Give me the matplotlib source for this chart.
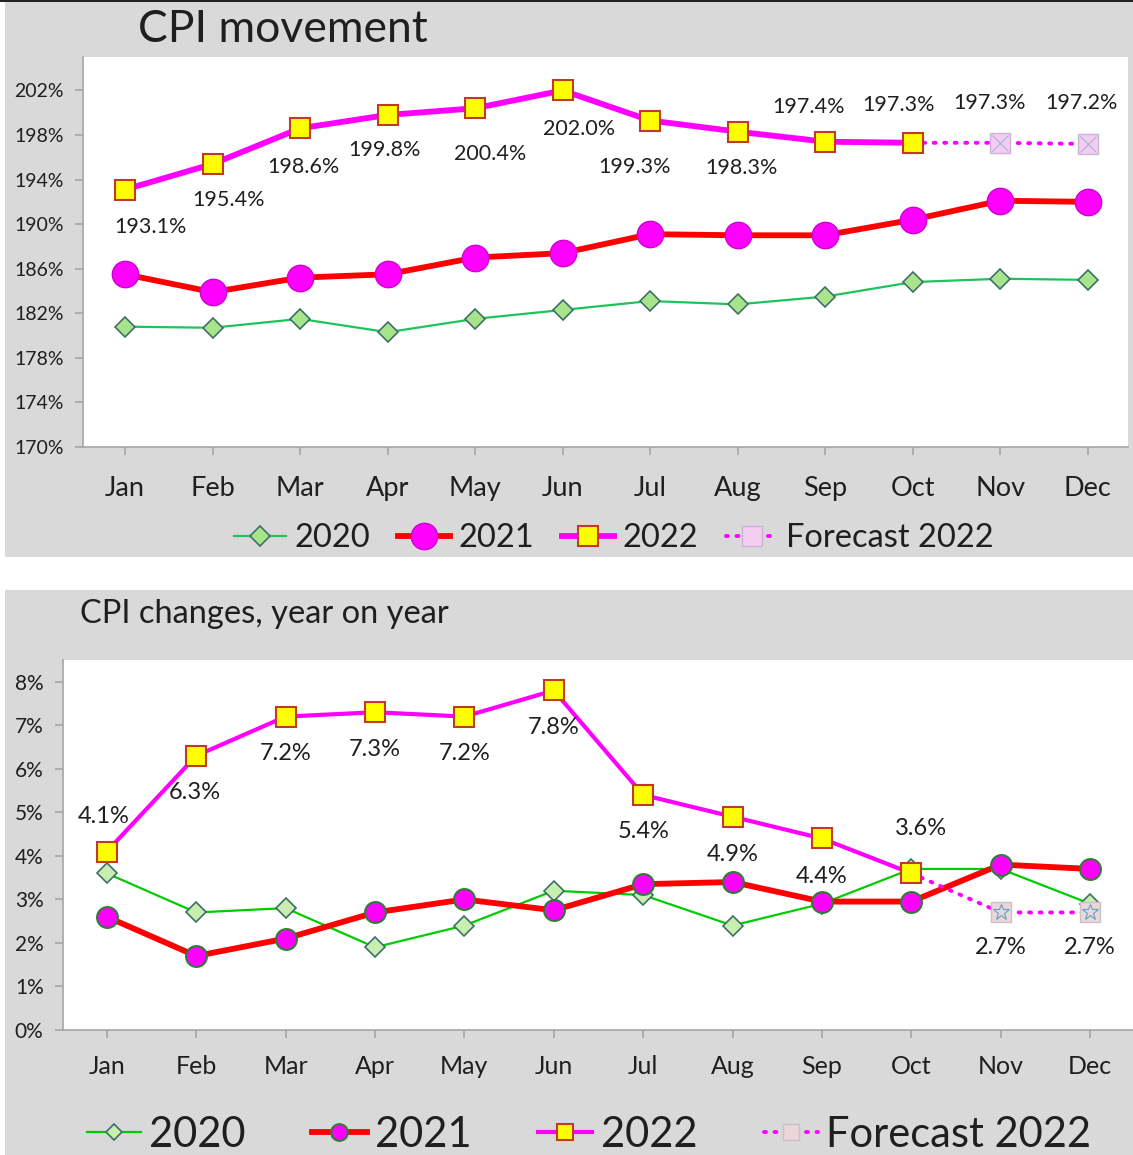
import matplotlib
matplotlib.use("Agg")
import matplotlib.pyplot as plt
from matplotlib.patches import Rectangle
from matplotlib.ticker import FuncFormatter

plt.rcParams['font.family'] = ['Lato', 'DejaVu Sans']

months = ['Jan', 'Feb', 'Mar', 'Apr', 'May', 'Jun',
          'Jul', 'Aug', 'Sep', 'Oct', 'Nov', 'Dec']

# CPI index (%), top chart
cpi_2020 = [180.8, 180.7, 181.5, 180.3, 181.5, 182.3, 183.1, 182.8, 183.5, 184.8, 185.1, 185.0]
cpi_2021 = [185.5, 183.9, 185.2, 185.5, 187.0, 187.4, 189.1, 189.0, 189.0, 190.4, 192.1, 192.0]
cpi_2022 = [193.1, 195.4, 198.6, 199.8, 200.4, 202.0, 199.3, 198.3, 197.4, 197.3]
cpi_fc_months = ['Oct', 'Nov', 'Dec']
cpi_fc = [197.3, 197.3, 197.2]

# CPI change year on year (%), bottom chart
yoy_2020 = [3.6, 2.7, 2.8, 1.9, 2.4, 3.2, 3.1, 2.4, 2.9, 3.7, 3.7, 2.9]
yoy_2021 = [2.6, 1.7, 2.1, 2.7, 3.0, 2.75, 3.35, 3.4, 2.95, 2.95, 3.8, 3.7]
yoy_2022 = [4.1, 6.3, 7.2, 7.3, 7.2, 7.8, 5.4, 4.9, 4.4, 3.6]
yoy_fc_months = ['Oct', 'Nov', 'Dec']
yoy_fc = [3.6, 2.7, 2.7]

# label offsets in pixels (dx, dy up)
top_off = [(25, -37), (16, -36), (3, -39), (-3, -35), (15, -46), (16, -39),
           (-16, -46), (4, -36), (-17, 35), (-14, 38)]
top_fc_off = [None, (-11, 40), (-6, 41)]
bot_off = [(-3, 35), (-1, -37), (0, -37), (0, -37), (0, -37), (0, -37),
           (0, -37), (0, -38), (0, -38), (10, 45)]
bot_fc_off = [None, (0, -35), (0, -35)]

W, H = 1133, 1155
fig = plt.figure(figsize=(W / 100, H / 100), dpi=100)
bg = '#d9d9d9'
txt = '#1f1f1f'
spine = '#a6a6a6'

fig.patches.append(Rectangle((5 / W, 1 - 557 / H), 1, 555 / H, transform=fig.transFigure,
                             facecolor=bg, edgecolor='none', zorder=-10))
fig.patches.append(Rectangle((0, 1 - 2 / H), 1, 2 / H, transform=fig.transFigure,
                             facecolor='#222222', edgecolor='none', zorder=-9))
fig.patches.append(Rectangle((5 / W, 0), 1, 565 / H, transform=fig.transFigure,
                             facecolor=bg, edgecolor='none', zorder=-10))

x = list(range(12))
pos = {m: i for i, m in enumerate(months)}


def px2pt(p):
    return (p[0] * 0.72, p[1] * 0.72)


def style_axes(ax, fs_y, fs_x, xpad):
    for s in ['top', 'right']:
        ax.spines[s].set_visible(False)
    for s in ['left', 'bottom']:
        ax.spines[s].set_color(spine)
        ax.spines[s].set_linewidth(1.2)
    ax.set_xticks(x)
    ax.set_xticklabels(months)
    ax.tick_params(axis='y', colors=spine, labelcolor=txt, labelsize=fs_y, length=6, width=1.2, pad=8)
    ax.tick_params(axis='x', colors=spine, labelcolor=txt, labelsize=fs_x, length=6, width=1.2, pad=xpad)


# ---------- top chart ----------
ax1 = fig.add_axes([83 / W, 1 - 447 / H, 1045 / W, 390 / H])
ax1.plot(x, cpi_2020, color='#1fc35a', lw=1.6, marker='D', ms=10,
         mfc='#a8e58a', mec='#3f6f6a', mew=1.2, label='2020', zorder=3)
ax1.plot(x, cpi_2021, color='#ff0000', lw=4.2, marker='o', ms=19,
         mfc='#ff00ff', mec='#d000d0', mew=1, label='2021', zorder=4)
ax1.plot(x[:len(cpi_2022)], cpi_2022, color='#ff00ff', lw=4.2, marker='s', ms=15,
         mfc='#ffff00', mec='#c0392b', mew=1.5, label='2022', zorder=5)
xf = [pos[m] for m in cpi_fc_months]
ax1.plot(xf, cpi_fc, color='#ff00ff', lw=2.8, ls=(0, (0.5, 2.2)), dash_capstyle='round',
         marker='s', ms=15, mfc='#f4cdf0', mec='#c9b3d6', mew=1,
         markevery=[1, 2], label='Forecast 2022', zorder=4)
ax1.plot(xf[1:], cpi_fc[1:], ls='none', marker='x', ms=12, mec='#9fb8d8', mew=0.8, zorder=6)

for i, v in enumerate(cpi_2022):
    ax1.annotate(f'{v:.1f}%', (x[i], v), xytext=px2pt(top_off[i]), textcoords='offset points',
                 ha='center', va='center', fontsize=15.5, color=txt, zorder=7)
for i, v in enumerate(cpi_fc):
    if top_fc_off[i] is None:
        continue
    ax1.annotate(f'{v:.1f}%', (xf[i], v), xytext=px2pt(top_fc_off[i]), textcoords='offset points',
                 ha='center', va='center', fontsize=15.5, color=txt, zorder=7)

ax1.set_xlim(-0.48, 11.46)
ax1.set_ylim(170, 205)
ax1.set_yticks(range(170, 203, 4))
ax1.yaxis.set_major_formatter(FuncFormatter(lambda v, p: f'{v:.0f}%'))
style_axes(ax1, 14, 19.5, 15)
ax1.legend(loc='center', bbox_to_anchor=(614 / W, 1 - 538 / H), bbox_transform=fig.transFigure,
           ncol=4, frameon=False, fontsize=23.5, handlelength=1.6, handletextpad=0.25,
           columnspacing=0.85, labelcolor=txt)

fig.text(283 / W, 1 - 30 / H, 'CPI movement', ha='center', va='center', fontsize=32, color=txt,
         bbox=dict(boxstyle='square,pad=0.12', facecolor=bg, edgecolor='none'))

# ---------- bottom chart ----------
ax2 = fig.add_axes([63 / W, 1 - 1030 / H, 1070 / W, 370 / H])
ax2.plot(x, yoy_2020, color='#00cc00', lw=1.6, marker='D', ms=10,
         mfc='#c8eeb0', mec='#3f6f6a', mew=1.2, label='2020', zorder=3)
ax2.plot(x, yoy_2021, color='#ff0000', lw=4.2, marker='o', ms=15,
         mfc='#ff00ff', mec='#2e7d32', mew=1.5, label='2021', zorder=4)
ax2.plot(x[:len(yoy_2022)], yoy_2022, color='#ff00ff', lw=3, marker='s', ms=15,
         mfc='#ffff00', mec='#c0392b', mew=1.5, label='2022', zorder=5)
xf2 = [pos[m] for m in yoy_fc_months]
ax2.plot(xf2, yoy_fc, color='#ff00ff', lw=2.8, ls=(0, (0.5, 2.2)), dash_capstyle='round',
         marker='s', ms=15, mfc='#ecd6d9', mec='#c9c0c8', mew=1,
         markevery=[1, 2], label='Forecast 2022', zorder=4)
ax2.plot(xf2[1:], yoy_fc[1:], ls='none', marker='*', ms=12, mfc='none', mec='#5aa6c0', mew=0.8, zorder=6)

for i, v in enumerate(yoy_2022):
    ax2.annotate(f'{v:.1f}%', (x[i], v), xytext=px2pt(bot_off[i]), textcoords='offset points',
                 ha='center', va='center', fontsize=17, color=txt, zorder=7)
for i, v in enumerate(yoy_fc):
    if bot_fc_off[i] is None:
        continue
    ax2.annotate(f'{v:.1f}%', (xf2[i], v), xytext=px2pt(bot_fc_off[i]), textcoords='offset points',
                 ha='center', va='center', fontsize=17, color=txt, zorder=7)

ax2.set_xlim(-0.49, 11.48)
ax2.set_ylim(0, 8.5)
ax2.set_yticks(range(0, 9))
ax2.yaxis.set_major_formatter(FuncFormatter(lambda v, p: f'{v:.0f}%'))
style_axes(ax2, 15, 18, 12)
ax2.legend(loc='center', bbox_to_anchor=(589 / W, 1 - 1135 / H), bbox_transform=fig.transFigure,
           ncol=4, frameon=False, fontsize=30, handlelength=1.3, handletextpad=0.2,
           columnspacing=1.6, labelcolor=txt, markerscale=0.8)

fig.text(80 / W, 1 - 614 / H, 'CPI changes, year on year', ha='left', va='center',
         fontsize=23.5, color=txt)

fig.savefig('out.png', dpi=100)
